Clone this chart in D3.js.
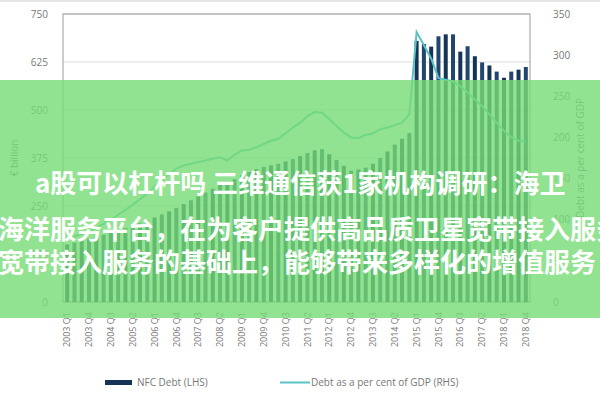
<!DOCTYPE html>
<html lang="en">
<head>
<meta charset="utf-8" />
<script src="https://cdnjs.cloudflare.com/ajax/libs/d3/7.8.5/d3.min.js"></script>
<style>
  body { margin: 0; background: #fff; }
  text { font-family: "Open Sans", "DejaVu Sans", sans-serif; }
</style>
</head>
<body>
<svg id="chart" width="600" height="400"></svg>
<script>
// quarters 2003Q1 .. 2018Q4
var quarters = [];
for (var y = 2003; y <= 2018; y++) for (var q = 1; q <= 4; q++) quarters.push(y + " Q" + q);

// NFC debt, EUR billion (LHS)
var debt = [150, 155, 160, 165, 170, 175, 180, 186, 192, 198, 205, 212,
            220, 228, 236, 245, 255, 265, 275, 285, 295, 305, 312, 320,
            330, 338, 346, 352, 356, 360, 366, 372, 380, 388, 395, 398,
            385, 370, 355, 342, 345, 350, 360, 375, 392, 410, 425, 440,
            680, 672, 665, 692, 697, 697, 652, 666, 640, 624, 616, 600,
            584, 600, 605, 612];
// debt as per cent of GDP (RHS)
var pct = [78, 80, 83, 86, 90, 95, 100, 106, 112, 118, 125, 132,
           140, 148, 155, 162, 166, 168, 170, 172, 174, 176, 172, 179,
           184, 185, 188, 192, 196, 198, 205, 212, 218, 226, 231, 230,
           222, 214, 206, 200, 199, 203, 205, 210, 212, 215, 218, 228,
           328, 312, 296, 272, 270, 268, 262, 255, 246, 238, 228, 218,
           208, 200, 196, 195];
var leftTicks = [0, 125, 250, 375, 500, 625, 750];
var rightTicks = [0, 50, 100, 150, 200, 250, 300, 350];

var svg = d3.select("#chart");
var L = 63, R = 530, T = 14, B = 302;

var x = d3.scaleBand().domain(quarters).range([L, R]).paddingInner(0.45).paddingOuter(0.3);
var yl = d3.scaleLinear().domain([0, 750]).range([B, T]);
var yr = d3.scaleLinear().domain([0, 350]).range([B, T]);

svg.append("line").attr("x1", 0).attr("x2", 600).attr("y1", 1).attr("y2", 1).attr("stroke", "#ccc");

svg.selectAll(".grid").data(leftTicks).enter().append("line")
  .attr("x1", L).attr("x2", R).attr("y1", function(d){return yl(d);}).attr("y2", function(d){return yl(d);})
  .attr("stroke", "#ddd");
svg.append("rect").attr("x", L).attr("y", T).attr("width", R - L).attr("height", B - T)
  .attr("fill", "none").attr("stroke", "#999");

svg.selectAll(".bar").data(debt).enter().append("rect")
  .attr("x", function(d, i){return x(quarters[i]);})
  .attr("width", x.bandwidth())
  .attr("y", function(d){return yl(d);})
  .attr("height", function(d){return B - yl(d);})
  .attr("fill", function(d, i){return i % 2 ? "#22466e" : "#153456";});

var line = d3.line().x(function(d, i){return x(quarters[i]) + x.bandwidth() / 2;}).y(function(d){return yr(d);});
svg.append("path").datum(pct).attr("d", line).attr("fill", "none").attr("stroke", "#5cc2c4").attr("stroke-width", 2);

var la = svg.append("g").attr("transform", "translate(" + (L - 12) + ",0)")
  .call(d3.axisLeft(yl).tickValues(leftTicks).tickSize(0));
var ra = svg.append("g").attr("transform", "translate(" + (R + 20) + ",0)")
  .call(d3.axisRight(yr).tickValues(rightTicks).tickSize(0));
[la, ra].forEach(function(a){
  a.select(".domain").remove();
  a.selectAll("text").attr("fill", "#777").style("font-size", "10px");
});

var xa = svg.append("g").attr("transform", "translate(0," + (B + 8) + ")")
  .call(d3.axisBottom(x).tickValues(quarters.filter(function(d, i){return i % 3 === 0;})).tickSize(0));
xa.select(".domain").remove();
xa.selectAll("text").attr("fill", "#777").style("font-size", "9px")
  .attr("transform", "rotate(-90)").attr("text-anchor", "end").attr("x", -2).attr("y", 0).attr("dy", "0.35em");

svg.append("text").attr("transform", "translate(18,158) rotate(-90)").attr("text-anchor", "middle")
  .attr("fill", "#777").style("font-size", "10px").text("€ billion");
svg.append("text").attr("transform", "translate(584,158) rotate(-90)").attr("text-anchor", "middle")
  .attr("fill", "#777").style("font-size", "10px").text("Debt as a per cent of GDP");

// legend
svg.append("rect").attr("x", 105).attr("y", 380).attr("width", 27).attr("height", 5).attr("fill", "#153456");
svg.append("text").attr("x", 137).attr("y", 386).attr("fill", "#777").style("font-size", "10px").text("NFC Debt (LHS)");
svg.append("line").attr("x1", 280).attr("x2", 310).attr("y1", 382.5).attr("y2", 382.5).attr("stroke", "#5cc2c4").attr("stroke-width", 2);
svg.append("text").attr("x", 311).attr("y", 386).attr("fill", "#777").style("font-size", "10px").text("Debt as a per cent of GDP (RHS)");

// overlay banner
svg.append("rect").attr("x", 0).attr("y", 80).attr("width", 600).attr("height", 238)
  .attr("fill", "rgb(118,220,118)").attr("opacity", 0.8);
var lines = [["a股可以杠杆吗 三维通信获1家机构调研：海卫", 35, 193],
             ["海洋服务平台，在为客户提供高品质卫星宽带接入服务", -2, 239],
             ["宽带接入服务的基础上，能够带来多样化的增值服务", -2, 272]];
svg.selectAll(".cap").data(lines).enter().append("text")
  .attr("x", function(d){return d[1];}).attr("y", function(d){return d[2];})
  .attr("fill", "#fff").style("font-family", "'Noto Sans CJK SC', sans-serif")
  .style("font-size", "26px").style("font-weight", "bold").text(function(d){return d[0];});
</script>
</body>
</html>
